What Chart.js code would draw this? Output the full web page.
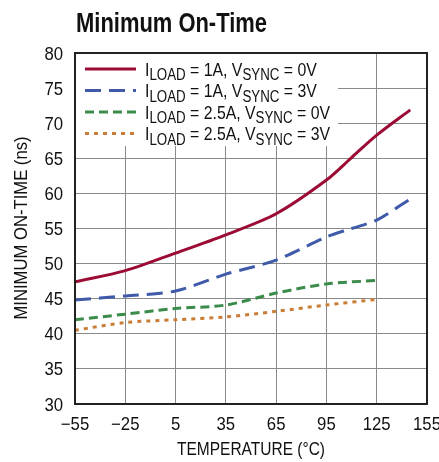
<!DOCTYPE html>
<html>
<head>
<meta charset="utf-8">
<script src="https://cdn.jsdelivr.net/npm/chart.js@4"></script>
<style>
  html, body { margin: 0; padding: 0; background: #fff; }
  #wrap { width: 439px; height: 462px; position: relative; }
</style>
</head>
<body>
<div id="wrap"><canvas id="ontime-graph"></canvas></div>
<script>
const FONT = "'Liberation Sans', Arial, sans-serif";

// values
const xTicks = [-55, -25, 5, 35, 65, 95, 125, 155];
const yTicks = [30, 35, 40, 45, 50, 55, 60, 65, 70, 75, 80];

const tempLong = [-55, -25, 5, 35, 65, 95, 110, 125, 145];
const tempShort = [-55, -25, 5, 35, 65, 95, 125];

const load1Sync0 = [47.4, 49.0, 51.5, 54.1, 57.1, 61.9, 65.1, 68.3, 71.9];
const load1Sync3 = [44.8, 45.4, 46.1, 48.5, 50.5, 53.8, 55.0, 56.2, 59.2];
const load25Sync0 = [42.0, 42.8, 43.6, 44.1, 45.8, 47.1, 47.6];
const load25Sync3 = [40.5, 41.6, 42.0, 42.4, 43.2, 44.1, 44.9];

// legend labels: [main, sub, main, sub, main]
const labels = [
  ['I', 'LOAD', ' = 1A, V', 'SYNC', ' = 0V'],
  ['I', 'LOAD', ' = 1A, V', 'SYNC', ' = 3V'],
  ['I', 'LOAD', ' = 2.5A, V', 'SYNC', ' = 0V'],
  ['I', 'LOAD', ' = 2.5A, V', 'SYNC', ' = 3V']
];

const pts = (xs, ys) => ys.map((y, i) => ({ x: xs[i], y: y }));

const fmt = v => (v < 0 ? '\u2212' + Math.abs(v) : String(v));

// draw text squeezed horizontally, either to a width or by a factor
function fitText(c, text, x, y, font, width, align, factor) {
  c.font = font;
  const k = factor || width / c.measureText(text).width;
  c.save();
  c.translate(x, y);
  c.scale(k, 1);
  c.textAlign = align;
  c.fillText(text, 0, 0);
  c.restore();
}

const frame = {
  id: 'frame',
  beforeDatasetsDraw(chart) {
    const c = chart.ctx, a = chart.chartArea;
    // white legend box over the grid
    c.save();
    c.fillStyle = '#fff';
    c.fillRect(a.left + 1, a.top + 1, 262, 92);
    c.restore();
  },
  afterDraw(chart) {
    const c = chart.ctx, a = chart.chartArea;
    const xs = chart.scales.x, ys = chart.scales.y;
    c.save();
    c.strokeStyle = '#222';
    c.lineWidth = 2;
    c.strokeRect(a.left, a.top, a.right - a.left, a.bottom - a.top);

    c.fillStyle = '#111';
    c.textBaseline = 'alphabetic';

    // title
    fitText(c, 'Minimum On-Time', 76, 32, 'bold 27px ' + FONT, 191, 'left');

    // tick labels
    const tickF = '18px ' + FONT;
    xTicks.forEach(v => {
      fitText(c, fmt(v), xs.getPixelForValue(v), a.bottom + 26, tickF, 0, 'center', 0.93);
    });
    yTicks.forEach(v => {
      fitText(c, String(v), a.left - 12, ys.getPixelForValue(v) + 6.5, tickF, 0, 'right', 0.93);
    });

    // axis titles
    fitText(c, 'TEMPERATURE (\u00b0C)', 251, 455, '18px ' + FONT, 148, 'center');
    c.save();
    c.translate(27, 228);
    c.rotate(-Math.PI / 2);
    fitText(c, 'MINIMUM ON-TIME (ns)', 0, 0, '18px ' + FONT, 183, 'center');
    c.restore();

    // legend
    const mainF = '19px ' + FONT, subF = '16px ' + FONT;
    const widthOf = parts => parts.reduce((s, p, k) => {
      c.font = k % 2 ? subF : mainF;
      return s + c.measureText(p).width;
    }, 0);
    const k = 185 / widthOf(labels[2]);
    chart.data.datasets.forEach((ds, i) => {
      const y = 69 + i * 21.5;
      c.strokeStyle = ds.borderColor;
      c.lineWidth = 3;
      c.setLineDash(ds.borderDash || []);
      c.beginPath();
      c.moveTo(85, y);
      c.lineTo(136, y);
      c.stroke();
      c.setLineDash([]);
      c.save();
      c.translate(145, y + 6.7);
      c.scale(k, 1);
      let x = 0;
      labels[i].forEach((part, j) => {
        const sub = j % 2 === 1;
        c.font = sub ? subF : mainF;
        c.fillText(part, x, sub ? 4.5 : 0);
        x += c.measureText(part).width;
      });
      c.restore();
    });
    c.restore();
  }
};

const ctx = document.getElementById('ontime-graph').getContext('2d');
const chart = new Chart(ctx, {
  type: 'line',
  data: {
    datasets: [{
      label: 'ILOAD = 1A, VSYNC = 0V',
      data: pts(tempLong, load1Sync0),
      borderColor: '#9c0b34',
      borderWidth: 3,
      tension: 0.3
    }, {
      label: 'ILOAD = 1A, VSYNC = 3V',
      data: pts(tempLong, load1Sync3),
      borderColor: '#3f5aa8',
      borderWidth: 3,
      borderDash: [16, 8],
      tension: 0.3
    }, {
      label: 'ILOAD = 2.5A, VSYNC = 0V',
      data: pts(tempShort, load25Sync0),
      borderColor: '#3b8c4b',
      borderWidth: 3,
      borderDash: [9, 5],
      tension: 0.3
    }, {
      label: 'ILOAD = 2.5A, VSYNC = 3V',
      data: pts(tempShort, load25Sync3),
      borderColor: '#c97d36',
      borderWidth: 3,
      borderDash: [4, 5],
      tension: 0.3
    }]
  },
  options: {
    responsive: true,
    maintainAspectRatio: false,
    animation: false,
    elements: { point: { radius: 0 } },
    layout: { padding: { top: 53, right: 12, left: 0, bottom: 0 } },
    plugins: {
      legend: { display: false },
      tooltip: { enabled: false }
    },
    scales: {
      x: {
        type: 'linear',
        min: -55,
        max: 155,
        afterBuildTicks: s => { s.ticks = xTicks.map(v => ({ value: v })); },
        afterFit: s => { s.height = 58; s.paddingRight = 0; s.paddingLeft = 0; },
        grid: { color: '#8a8a8a', lineWidth: 1, drawTicks: false },
        border: { display: false },
        ticks: { display: false }
      },
      y: {
        min: 30,
        max: 80,
        afterBuildTicks: s => { s.ticks = yTicks.map(v => ({ value: v })); },
        afterFit: s => { s.width = 75; s.paddingTop = 0; s.paddingBottom = 0; },
        grid: { color: '#8a8a8a', lineWidth: 1, drawTicks: false },
        border: { display: false },
        ticks: { display: false }
      }
    }
  },
  plugins: [frame]
});
</script>
</body>
</html>
